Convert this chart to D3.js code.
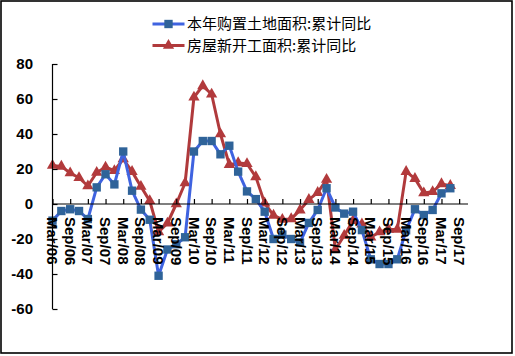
<!DOCTYPE html>
<html>
<head>
<meta charset="utf-8">
<script src="https://cdn.jsdelivr.net/npm/d3@7"></script>
<style>
  html, body { margin: 0; padding: 0; background: #fff; }
  svg { display: block; }
</style>
</head>
<body>
<svg id="chart" width="515" height="356"></svg>
<script>
// Quarter ticks (every 6 months labelled)
const tickLabels = ["Mar/06","Sep/06","Mar/07","Sep/07","Mar/08","Sep/08","Mar/09","Sep/09",
  "Mar/10","Sep/10","Mar/11","Sep/11","Mar/12","Sep/12","Mar/13","Sep/13",
  "Mar/14","Sep/14","Mar/15","Sep/15","Mar/16","Sep/16","Mar/17","Sep/17"];

// Quarterly observations Mar/06 .. Jun/17
const quarters = ["Mar/06","Jun/06","Sep/06","Dec/06","Mar/07","Jun/07","Sep/07","Dec/07",
  "Mar/08","Jun/08","Sep/08","Dec/08","Mar/09","Jun/09","Sep/09","Dec/09",
  "Mar/10","Jun/10","Sep/10","Dec/10","Mar/11","Jun/11","Sep/11","Dec/11",
  "Mar/12","Jun/12","Sep/12","Dec/12","Mar/13","Jun/13","Sep/13","Dec/13",
  "Mar/14","Jun/14","Sep/14","Dec/14","Mar/15","Jun/15","Sep/15","Dec/15",
  "Mar/16","Jun/16","Sep/16","Dec/16","Mar/17","Jun/17"];

const landValues = [-9.5,-4,-3,-4,-8.6,9.5,17,11.2,
  30,7.6,-3.2,-9,-41,-26,-23,-19,
  30,36,36,28.4,33.3,18.5,7.2,2.8,
  -4.4,-20,-17.5,-20,-22,-10.8,-3.4,9,
  -2,-5.5,-4.4,-14.9,-31.6,-34.3,-34.3,-31.6,
  -15,-3,-6.3,-3.4,6.1,9];

const startValues = [22,21.5,17.7,15,10.3,18,21,19,
  25.7,18.5,10,1.8,-16,-11,0,12,
  61,67.5,62.7,40,22.5,23.5,23,15.5,
  0.5,-6.5,-8.8,-8.5,-3.5,2.5,6.5,14,
  -26,-18,-9.5,-11.5,-19,-16,-14.5,-14.5,
  18.5,14.5,6.3,7,11.5,10.5];

const seriesNames = ["本年购置土地面积:累计同比","房屋新开工面积:累计同比"];
const yTicks = [80,60,40,20,0,-20,-40,-60];

const svg = d3.select("#chart");
const W = 515, H = 356;

svg.append("rect").attr("x",0).attr("y",0).attr("width",W).attr("height",H).attr("fill","#fff");
svg.append("rect").attr("x",1).attr("y",1).attr("width",511).attr("height",352)
  .attr("fill","none").attr("stroke","#000").attr("stroke-width",1.6);

const x = d3.scaleLinear().domain([0, 47]).range([52.5, 468]);
const y = d3.scaleLinear().domain([-60, 80]).range([309, 64]);

const blueLine = "#3f63e0", blueMark = "#2f6399";
const redLine = "#b03a3c", redMark = "#b23a3c";

const triangle = d3.symbol().type(d3.symbolTriangle).size(55);
const square = d3.symbol().type(d3.symbolSquare).size(70);

function drawSeries(vals, lineColor, markColor, sym) {
  const line = d3.line().x((d,i)=>x(i)).y(d=>y(d));
  svg.append("path").datum(vals).attr("d", line)
    .attr("fill","none").attr("stroke",lineColor).attr("stroke-width",3)
    .attr("stroke-linejoin","round");
  svg.append("g").selectAll("path").data(vals).join("path")
    .attr("transform",(d,i)=>`translate(${x(i)},${y(d)})`)
    .attr("d", sym).attr("fill", markColor);
}
drawSeries(startValues, redLine, redMark, triangle);
drawSeries(landValues, blueLine, blueMark, square);

// Y axis
const yAxis = d3.axisRight(y).tickValues(yTicks).tickSize(5).tickFormat("");
const gy = svg.append("g").attr("transform","translate(52.5,0)").call(yAxis);
gy.select(".domain").attr("stroke","#000").attr("stroke-width",1.2).attr("d","M0,64V309");
gy.selectAll(".tick line").attr("stroke","#000").attr("stroke-width",1.2);
svg.append("g").selectAll("text").data(yTicks).join("text")
  .attr("x", 33).attr("y", d=>y(d)).attr("dy","0.36em")
  .attr("text-anchor","end")
  .attr("font-family","'Liberation Sans', Arial, sans-serif")
  .attr("font-weight","bold").attr("font-size","15px").attr("fill","#000")
  .text(d=>d);

// X axis at y=0
const tickIdx = tickLabels.map((d,i)=>i*2);
const xAxis = d3.axisTop(x).tickValues(tickIdx).tickSize(5).tickFormat("");
const gx = svg.append("g").attr("transform",`translate(0,${y(0)})`).call(xAxis);
gx.select(".domain").attr("stroke","#000").attr("stroke-width",1.2).attr("d","M52.5,0H468");
gx.selectAll(".tick line").attr("stroke","#000").attr("stroke-width",1.2);
svg.append("g").selectAll("text").data(tickLabels).join("text")
  .attr("transform",(d,i)=>`translate(${x(i*2)},${y(0)+13}) rotate(90)`)
  .attr("dy","0.36em")
  .attr("font-family","'Liberation Sans', Arial, sans-serif")
  .attr("font-weight","bold").attr("font-size","15px").attr("fill","#000")
  .text(d=>d);

// Legend
const legend = svg.append("g");
const lg = [
  {name: seriesNames[0], y: 24, lc: blueLine, mc: blueMark, sym: square},
  {name: seriesNames[1], y: 45.5, lc: redLine, mc: redMark, sym: triangle}
];
lg.forEach(d=>{
  legend.append("line").attr("x1",152.5).attr("x2",184.5).attr("y1",d.y).attr("y2",d.y)
    .attr("stroke",d.lc).attr("stroke-width",3);
  legend.append("path").attr("transform",`translate(168.5,${d.y})`).attr("d",d.sym).attr("fill",d.mc);
  legend.append("text").attr("x",187).attr("y",d.y).attr("dy","0.36em")
    .attr("font-family","'Noto Sans CJK SC', sans-serif").attr("font-size","15px").attr("fill","#000")
    .text(d.name);
});
</script>
</body>
</html>
